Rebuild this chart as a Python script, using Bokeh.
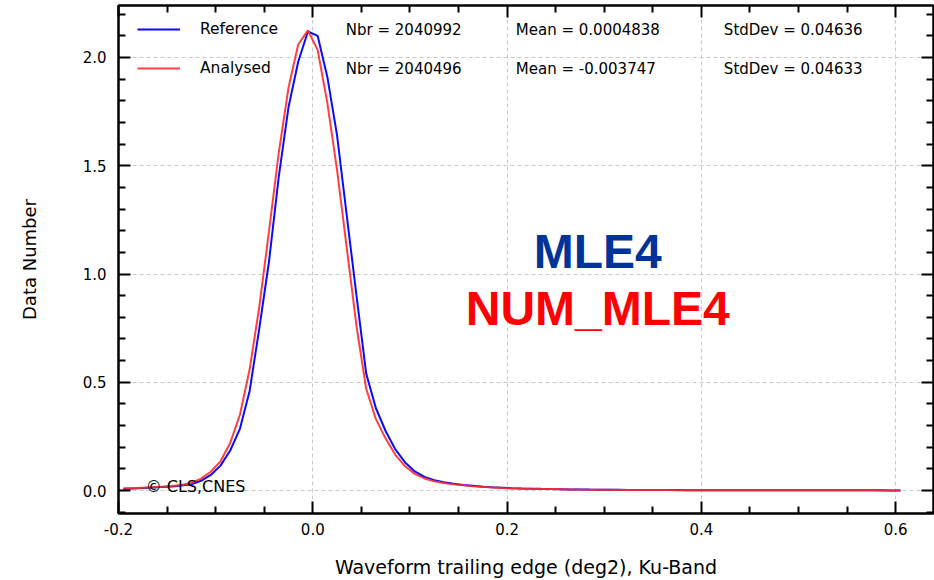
from bokeh.plotting import figure
from bokeh.models import (Range1d, LinearAxis, FixedTicker, PrintfTickFormatter,
                          Label, Legend, LegendItem, CustomLabelingPolicy)
from bokeh.embed import file_html
from bokeh.resources import INLINE

# Histogram bin centres (deg2)
bin_centers = [
    -0.195, -0.185, -0.175, -0.165, -0.155, -0.145, -0.135, -0.125, -0.115, -0.105,
    -0.095, -0.085, -0.075, -0.065, -0.055, -0.045, -0.035, -0.025, -0.015, -0.005,
    0.005, 0.015, 0.025, 0.035, 0.045, 0.055, 0.065, 0.075, 0.085, 0.095,
    0.105, 0.115, 0.125, 0.135, 0.145, 0.155, 0.165, 0.175, 0.185, 0.195,
    0.205, 0.215, 0.225, 0.235, 0.245, 0.255, 0.265, 0.275, 0.285, 0.295,
    0.305, 0.315, 0.325, 0.335, 0.345, 0.355, 0.365, 0.375, 0.385, 0.395,
    0.405, 0.415, 0.425, 0.435, 0.445, 0.455, 0.465, 0.475, 0.485, 0.495,
    0.505, 0.515, 0.525, 0.535, 0.545, 0.555, 0.565, 0.575, 0.585, 0.595,
    0.605,
]

reference_counts = [
    0.008, 0.010, 0.012, 0.014, 0.016, 0.019, 0.023, 0.029, 0.045, 0.072,
    0.115, 0.185, 0.285, 0.46, 0.75, 1.06, 1.45, 1.77, 1.98, 2.12,
    2.10, 1.91, 1.64, 1.27, 0.90, 0.54, 0.38, 0.275, 0.19, 0.13,
    0.088, 0.063, 0.048, 0.038, 0.031, 0.026, 0.022, 0.018, 0.015, 0.013,
    0.011, 0.0098, 0.0088, 0.0078, 0.0069, 0.0061, 0.0054, 0.0048, 0.0043, 0.0039,
    0.0035, 0.0032, 0.0029, 0.0027, 0.0025, 0.0023, 0.0021, 0.0020, 0.0019, 0.0018,
    0.0017, 0.0016, 0.0015, 0.0014, 0.0013, 0.0013, 0.0012, 0.0012, 0.0011, 0.0011,
    0.0010, 0.0010, 0.0010, 0.0009, 0.0009, 0.0009, 0.0008, 0.0008, 0.0008, 0.0007,
    0.0007,
]

analysed_counts = [
    0.009, 0.011, 0.013, 0.015, 0.018, 0.021, 0.026, 0.035, 0.055, 0.087,
    0.135, 0.22, 0.35, 0.56, 0.85, 1.20, 1.56, 1.86, 2.06, 2.125,
    2.035, 1.79, 1.48, 1.12, 0.76, 0.47, 0.33, 0.24, 0.165, 0.112,
    0.077, 0.056, 0.043, 0.035, 0.029, 0.024, 0.020, 0.017, 0.014, 0.012,
    0.0105, 0.0093, 0.0083, 0.0074, 0.0066, 0.0059, 0.0052, 0.0046, 0.0041, 0.0037,
    0.0034, 0.0031, 0.0028, 0.0026, 0.0024, 0.0022, 0.0020, 0.0019, 0.0018, 0.0017,
    0.0016, 0.0015, 0.0014, 0.0013, 0.0013, 0.0012, 0.0012, 0.0011, 0.0011, 0.0010,
    0.0010, 0.0010, 0.0009, 0.0009, 0.0009, 0.0008, 0.0008, 0.0008, 0.0007, 0.0007,
    0.0007,
]

series_names = ["Reference", "Analysed"]
series_nbr = ["2040992", "2040496"]
series_mean = ["0.0004838", "-0.003747"]
series_std = ["0.04636", "0.04633"]

x_major = [-0.2, 0.0, 0.2, 0.4, 0.6]
x_minor = [-0.15, -0.1, -0.05, 0.05, 0.1, 0.15, 0.25, 0.3, 0.35, 0.45, 0.5, 0.55]
y_major = [0.0, 0.5, 1.0, 1.5, 2.0]
y_minor = [-0.1, 0.1, 0.2, 0.3, 0.4, 0.6, 0.7, 0.8, 0.9, 1.1, 1.2, 1.3, 1.4,
           1.6, 1.7, 1.8, 1.9, 2.1, 2.2]

FONT = "DejaVu Sans"
BLUE = "#0a0aff"
RED = "#ff2a2a"

p = figure(width=934, height=580, output_backend="svg", toolbar_location=None,
           x_range=Range1d(-0.2, 0.639), y_range=Range1d(-0.106, 2.240),
           min_border_left=118, min_border_right=1, min_border_top=5,
           min_border_bottom=67)
p.background_fill_color = "white"
p.border_fill_color = "white"
p.outline_line_color = "black"
p.outline_line_width = 2

x_ticker = FixedTicker(ticks=x_major, minor_ticks=x_minor)
y_ticker = FixedTicker(ticks=y_major, minor_ticks=y_minor)


def style_axis(ax, ticker, show_labels):
    ax.ticker = ticker
    ax.formatter = PrintfTickFormatter(format="%.1f")
    ax.axis_line_color = "black"
    ax.axis_line_width = 2
    ax.major_tick_line_color = "black"
    ax.major_tick_line_width = 2
    ax.minor_tick_line_color = "black"
    ax.minor_tick_line_width = 2
    ax.major_tick_in = 12
    ax.major_tick_out = 0
    ax.minor_tick_in = 7
    ax.minor_tick_out = 0
    ax.major_label_text_font = FONT
    ax.major_label_text_color = "black"
    ax.axis_label_text_font = FONT
    ax.axis_label_text_font_style = "normal"
    ax.axis_label_text_color = "black"
    if show_labels:
        ax.major_label_text_font_size = "15px"
    else:
        # mirrored tick marks only, no labels
        ax.major_label_policy = CustomLabelingPolicy(code="return []")
        ax.major_label_text_font_size = "0px"
        ax.major_label_standoff = 0


xaxis = p.xaxis[0]
yaxis = p.yaxis[0]
style_axis(xaxis, x_ticker, True)
style_axis(yaxis, y_ticker, True)
xaxis.axis_label = "Waveform trailing edge (deg2), Ku-Band"
yaxis.axis_label = "Data Number"
xaxis.axis_label_text_font_size = "19px"
yaxis.axis_label_text_font_size = "18px"
xaxis.major_label_standoff = 9
xaxis.axis_label_standoff = 18
yaxis.major_label_standoff = 12
yaxis.axis_label_standoff = 40

top_axis = LinearAxis()
right_axis = LinearAxis()
style_axis(top_axis, x_ticker, False)
style_axis(right_axis, y_ticker, False)
p.add_layout(top_axis, "above")
p.add_layout(right_axis, "right")

for g in (p.xgrid[0], p.ygrid[0]):
    g.grid_line_color = "#c8c8c8"
    g.grid_line_dash = "4 3"
    g.grid_line_width = 1
p.xgrid[0].ticker = x_ticker
p.ygrid[0].ticker = y_ticker

r_ref = p.line(bin_centers, reference_counts, line_color=BLUE, line_width=2)
r_ana = p.line(bin_centers, analysed_counts, line_color=RED, line_width=2,
               line_alpha=0.9)

legend = Legend(items=[LegendItem(label=series_names[0], renderers=[r_ref]),
                       LegendItem(label=series_names[1], renderers=[r_ana])],
                location=(19, 435), orientation="vertical",
                border_line_color=None, background_fill_alpha=0,
                padding=0, margin=0, spacing=19, glyph_width=43,
                glyph_height=20, label_height=20, label_standoff=20,
                label_text_font=FONT, label_text_font_size="15.5px",
                label_text_color="black")
p.add_layout(legend)

# Statistics columns next to the legend entries
row_y = [2.129, 1.949]
for i in range(2):
    for xpos, txt in ((0.034, "Nbr = " + series_nbr[i]),
                      (0.209, "Mean = " + series_mean[i]),
                      (0.4232, "StdDev = " + series_std[i])):
        p.add_layout(Label(x=xpos, y=row_y[i], text=txt, text_font=FONT,
                           text_font_size="15px", text_color="black",
                           text_baseline="middle", text_align="left"))

p.add_layout(Label(x=0.2934, y=1.104, text="MLE4", text_font="Liberation Sans",
                   text_font_style="bold", text_font_size="48px",
                   text_color="#003399", text_align="center",
                   text_baseline="middle"))
p.add_layout(Label(x=0.2934, y=0.841, text="NUM_MLE4", text_font="Liberation Sans",
                   text_font_style="bold", text_font_size="48px",
                   text_color="#ff0000", text_align="center",
                   text_baseline="middle"))
p.add_layout(Label(x=-0.172, y=0.018, text="\u00a9 CLS,CNES", text_font=FONT,
                   text_font_size="16px", text_color="black",
                   text_baseline="middle", text_align="left"))

open("out.html", "w").write(file_html(p, INLINE))
